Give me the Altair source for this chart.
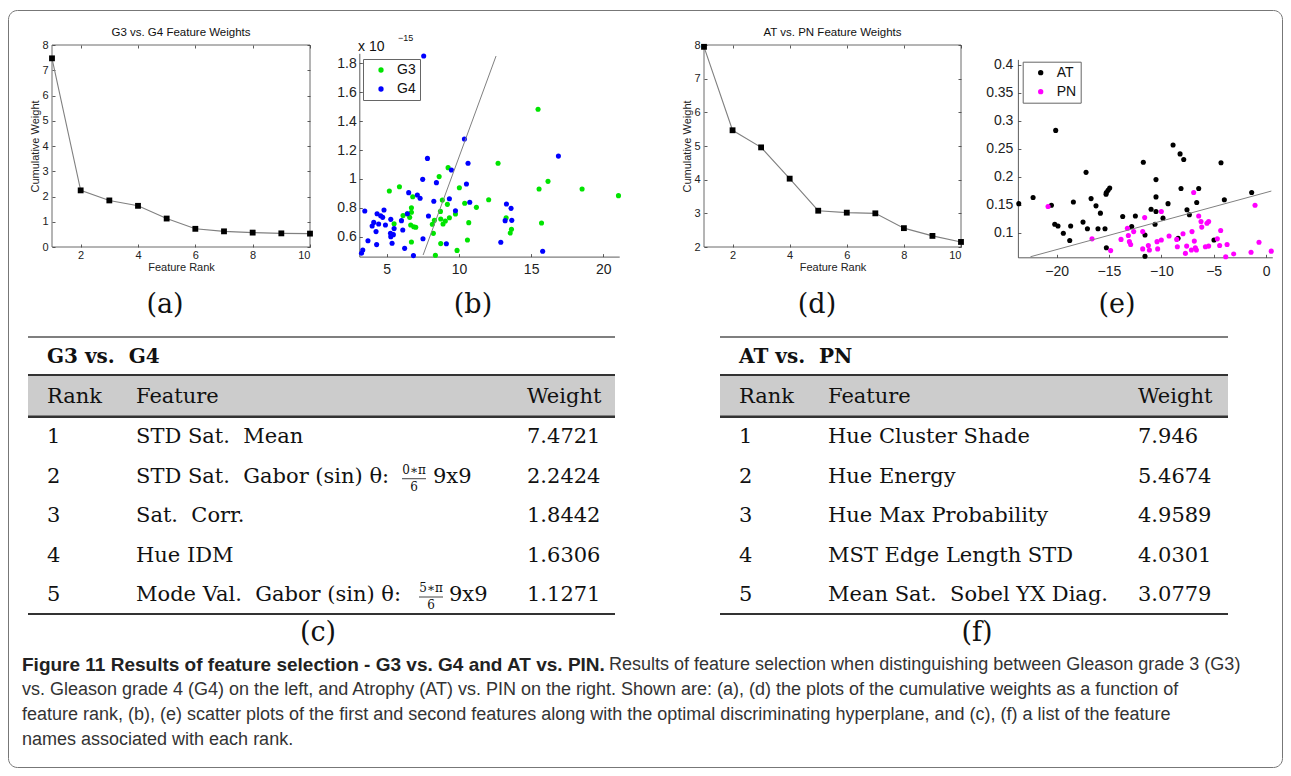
import altair as alt
import pandas as pd

# ---------------- data ----------------
rank = list(range(1, 11))
g34_weights = [7.4721, 2.2424, 1.8442, 1.6306, 1.1271, 0.72, 0.62, 0.57, 0.54, 0.53]
atpn_weights = [7.946, 5.4674, 4.9589, 4.0301, 3.0779, 3.02, 3.00, 2.56, 2.33, 2.15]

g3_x = [15.48, 12.71, 9.25, 8.63, 10.03, 5.18, 5.88, 6.80, 15.55, 16.17, 18.53, 21.05, 12.06, 8.85,
        9.20, 10.40, 11.21, 6.71, 6.71, 6.13, 6.43, 6.59, 8.72, 9.76, 9.34, 8.74, 8.30, 8.16, 9.06,
        8.90, 5.51, 6.66, 6.87, 7.01, 10.68, 13.27, 13.64, 13.55, 15.72, 8.23, 6.71, 8.74, 10.59,
        9.87, 8.37]
g3_y = [1.482, 1.108, 1.078, 1.016, 0.939, 0.916, 0.946, 0.877, 0.93, 0.983, 0.93, 0.884, 0.856, 0.854,
        0.824, 0.831, 0.803, 0.80, 0.769, 0.746, 0.759, 0.734, 0.775, 0.757, 0.731, 0.722, 0.713, 0.686,
        0.709, 0.688, 0.69, 0.681, 0.669, 0.665, 0.697, 0.731, 0.651, 0.625, 0.695, 0.623, 0.563, 0.552,
        0.577, 0.505, 0.471]
g4_x = [7.56, 10.38, 7.82, 16.89, 10.63, 9.48, 7.49, 10.52, 8.44, 6.52, 7.12, 7.31, 9.34, 8.26, 10.75,
        13.29, 13.61, 9.76, 4.81, 3.48, 4.33, 4.58, 4.72, 5.28, 6.02, 6.43, 7.89, 13.20, 13.66, 4.10,
        4.44, 4.91, 3.99, 5.51, 4.26, 6.11, 5.26, 5.46, 5.28, 3.70, 4.30, 5.37, 7.51, 9.13, 12.90, 6.24,
        6.85, 15.8, 3.34, 3.25]
g4_y = [1.851, 1.276, 1.142, 1.158, 1.108, 1.062, 0.997, 0.965, 0.974, 0.905, 0.889, 0.866, 0.863,
        0.845, 0.838, 0.826, 0.796, 0.78, 0.785, 0.778, 0.759, 0.745, 0.734, 0.72, 0.711, 0.759, 0.743,
        0.711, 0.713, 0.699, 0.688, 0.681, 0.674, 0.656, 0.635, 0.646, 0.623, 0.614, 0.60, 0.572, 0.545,
        0.554, 0.586, 0.551, 0.561, 0.519, 0.469, 0.499, 0.508, 0.485]
g34_plane_x = [7.52, 12.57]
g34_plane_y = [0.473, 1.851]

at_x = [-20.09, -8.88, -8.21, -7.86, -11.72, -4.30, -17.19, -10.51, -14.93, -15.09, -15.25, -15.28,
        -8.12, -6.43, -1.37, -22.25, -16.71, -10.51, -3.98, -23.62, -18.40, -9.36, -6.62, -20.50,
        -16.24, -15.82, -10.98, -10.51, -7.55, -7.32, -13.69, -12.48, -9.84, -17.48, -20.18, -19.87,
        -18.66, -12.83, -10.60, -17.06, -16.05, -15.38, -19.36, -11.56, -18.75, -8.40, -4.97, -15.25,
        -11.56]
at_y = [0.283, 0.257, 0.241, 0.231, 0.226, 0.225, 0.208, 0.195, 0.180, 0.176, 0.172, 0.169, 0.179,
        0.179, 0.172, 0.163, 0.161, 0.164, 0.159, 0.152, 0.155, 0.152, 0.154, 0.149, 0.148, 0.135,
        0.142, 0.138, 0.141, 0.132, 0.129, 0.130, 0.126, 0.119, 0.115, 0.112, 0.112, 0.111, 0.115,
        0.107, 0.107, 0.107, 0.099, 0.096, 0.086, 0.090, 0.087, 0.073, 0.058]
pn_x = [-6.91, -20.82, -1.05, -10.0, -11.59, -6.43, -6.21, -5.48, -5.64, -6.14, -13.24, -12.64, -11.78,
        -13.85, -16.62, -13.15, -13.05, -12.93, -14.84, -11.78, -11.24, -11.14, -10.41, -10.0, -10.35,
        -9.26, -8.53, -8.47, -7.93, -7.58, -7.70, -7.07, -6.85, -7.13, -6.75, -6.65, -5.79, -5.48,
        -4.65, -4.33, -4.43, -3.72, -3.85, -3.09, -1.43, -0.67, 0.50]
pn_y = [0.172, 0.147, 0.149, 0.138, 0.127, 0.130, 0.120, 0.120, 0.117, 0.110, 0.108, 0.102, 0.102,
        0.088, 0.089, 0.095, 0.084, 0.079, 0.068, 0.071, 0.077, 0.069, 0.084, 0.087, 0.071, 0.094,
        0.088, 0.075, 0.098, 0.076, 0.063, 0.102, 0.085, 0.069, 0.073, 0.069, 0.075, 0.076, 0.089,
        0.104, 0.077, 0.079, 0.057, 0.062, 0.065, 0.083, 0.067]
atpn_plane_x = [-22.5, 0.51]
atpn_plane_y = [0.057, 0.1745]

NB = "\u00a0"
table_rank = [1, 2, 3, 4, 5]
g34_feature = ["STD Sat." + NB + " Mean", "STD Sat." + NB + " Gabor (sin) \u03b8:", "Sat." + NB + " Corr.",
               "Hue IDM", "Mode Val." + NB + " Gabor (sin) \u03b8:"]
g34_frac_num = ["", "0\u2217\u03c0", "", "", "5\u2217\u03c0"]
g34_frac_den = ["", "6", "", "", "6"]
g34_suffix = ["", "9x9", "", "", "9x9"]
g34_weight_txt = ["7.4721", "2.2424", "1.8442", "1.6306", "1.1271"]
atpn_feature = ["Hue Cluster Shade", "Hue Energy", "Hue Max Probability", "MST Edge Length STD",
                "Mean Sat." + NB + " Sobel YX Diag."]
atpn_weight_txt = ["7.946", "5.4674", "4.9589", "4.0301", "3.0779"]

caption_bold = "Figure 11 Results of feature selection - G3 vs. G4 and AT vs. PIN."
caption_lines = [
    "Results of feature selection when distinguishing between Gleason grade 3 (G3)",
    "vs. Gleason grade 4 (G4) on the left, and Atrophy (AT) vs. PIN on the right. Shown are: (a), (d) the plots of the cumulative weights as a function of",
    "feature rank, (b), (e) scatter plots of the first and second features along with the optimal discriminating hyperplane, and (c), (f) a list of the feature",
    "names associated with each rank.",
]

# ---------------- layout ----------------
W, H = 1275, 760
SANS = "Liberation Sans"
SERIF = "DejaVu Serif"
TFS = 21
layers = []


def txt(text, x, y, size, font=SANS, weight="normal", align="left", baseline="middle", angle=0,
        color="#111"):
    return alt.Chart(pd.DataFrame({"t": [text]})).mark_text(
        font=font, fontSize=size, fontWeight=weight, align=align, baseline=baseline,
        angle=angle, color=color
    ).encode(x=alt.value(x), y=alt.value(y), text="t:N")


def hrule(x0, x1, y, width=1.5, color="#333"):
    return alt.Chart(pd.DataFrame({"k": [0]})).mark_rule(color=color, strokeWidth=width).encode(
        x=alt.value(x0), x2=alt.value(x1), y=alt.value(y))


def axis(**kw):
    base = dict(grid=False, title=None, labelFont=SANS, titleFont=SANS, titleFontWeight="normal",
                labelColor="#222", titleColor="#222", tickColor="#333", domainColor="#333",
                domainWidth=0.8, tickWidth=0.8)
    base.update(kw)
    return alt.Axis(**base)


def weight_plot(weights, xr, yr, ydom, yvals, title):
    df = pd.DataFrame({"rank": rank, "w": weights})
    xs = alt.Scale(domain=[1, 10], range=xr, nice=False, zero=False)
    ys = alt.Scale(domain=ydom, range=yr, nice=False, zero=False)
    xl, xrt = xr
    yb, yt = yr
    xticks = [2, 4, 6, 8, 10]
    frame = alt.Chart(pd.DataFrame({"x0": [1], "x1": [10], "y0": [ydom[0]], "y1": [ydom[1]]})).mark_rect(
        fill="white", fillOpacity=0, stroke="#444", strokeWidth=0.8
    ).encode(
        x=alt.X("x0:Q", scale=xs, axis=axis(orient="bottom", offset=yt - H, values=xticks, labels=False,
                                             domain=False, tickSize=3)),
        x2="x1:Q",
        y=alt.Y("y0:Q", scale=ys, axis=axis(orient="left", offset=-xrt, values=yvals, labels=False,
                                             domain=False, tickSize=3)),
        y2="y1:Q",
    )
    line = alt.Chart(df).mark_line(color="#808080", strokeWidth=1.1).encode(
        x=alt.X("rank:Q", scale=xs, axis=axis(orient="bottom", offset=yb - H, values=xticks, ticks=False,
                                               domain=False, labelPadding=2, labelFontSize=11,
                                               title="Feature Rank", titleFontSize=11, titlePadding=1)),
        y=alt.Y("w:Q", scale=ys, axis=axis(orient="left", offset=-xl, values=yvals, ticks=False,
                                            domain=False, labelPadding=4, labelFontSize=11,
                                            title="Cumulative Weight", titleFontSize=11, titlePadding=1)),
    )
    pts = alt.Chart(df).mark_square(size=34, color="black", opacity=1).encode(
        x=alt.X("rank:Q", scale=xs, axis=axis(orient="top", offset=-yb, values=xticks, labels=False,
                                               domain=False, tickSize=3)),
        y=alt.Y("w:Q", scale=ys, axis=axis(orient="right", offset=xl - W, values=yvals, labels=False,
                                            domain=False, tickSize=3)),
    )
    t = txt(title, (xl + xrt) / 2, yt - 12, 11.5, align="center")
    return [frame, line, pts, t]


def scatter_plot(df, xdom, xr, ydom, yr, xvals, yvals, cdom, crange, legxy, plane_x, plane_y, ypad, xpad):
    xs = alt.Scale(domain=xdom, range=xr, nice=False, zero=False)
    ys = alt.Scale(domain=ydom, range=yr, nice=False, zero=False)
    xl, xrt = xr
    yb, yt = yr
    pts = alt.Chart(df).mark_circle(size=26, opacity=1).encode(
        x=alt.X("x:Q", scale=xs, axis=axis(orient="bottom", offset=yb - H, values=xvals, ticks=False,
                                            labelPadding=xpad, labelFontSize=14, format="~g")),
        y=alt.Y("y:Q", scale=ys, axis=axis(orient="left", offset=-xl, values=yvals, ticks=False,
                                            labelPadding=ypad, labelFontSize=14, format="~g")),
        color=alt.Color("cls:N", scale=alt.Scale(domain=cdom, range=crange),
                        legend=alt.Legend(orient="none", legendX=legxy[0], legendY=legxy[1], title=None,
                                          strokeColor="#666", fillColor="white", padding=4,
                                          rowPadding=5, labelFontSize=14, labelFont=SANS,
                                          labelColor="#111", symbolSize=28, symbolType="circle",
                                          symbolOffset=7, labelOffset=9, symbolStrokeWidth=0)),
    )
    pdf = pd.DataFrame({"x": plane_x, "y": plane_y})
    plane = alt.Chart(pdf).mark_line(color="#808080", strokeWidth=1).encode(
        x=alt.X("x:Q", scale=xs, axis=axis(orient="top", offset=-yb, values=xvals, labels=False,
                                            domain=False, tickSize=3)),
        y=alt.Y("y:Q", scale=ys, axis=axis(orient="right", offset=xl - W, values=yvals, labels=False,
                                            domain=False, tickSize=3)),
    )
    return [pts, plane]


# outer frame
layers.append(alt.Chart(pd.DataFrame({"k": [0]})).mark_rect(
    fill="white", fillOpacity=0, stroke="#777", strokeWidth=1, cornerRadius=9
).encode(x=alt.value(0.5), x2=alt.value(1274.5), y=alt.value(2.5), y2=alt.value(759.5)))

# (a) and (d)
layers += weight_plot(g34_weights, [44, 302], [239, 37], [0, 8], list(range(0, 9)),
                      "G3 vs. G4 Feature Weights")
layers += weight_plot(atpn_weights, [696, 953], [239, 37], [2, 8], list(range(2, 9)),
                      "AT vs. PN Feature Weights")

# (b)
df_b = pd.DataFrame({"x": g3_x + g4_x, "y": g3_y + g4_y,
                     "cls": ["G3"] * len(g3_x) + ["G4"] * len(g4_x)})
layers += scatter_plot(df_b, [3.1, 21.1], [351.3, 611.2], [0.462, 1.87], [248.6, 45.3],
                       [5, 10, 15, 20], [0.6, 0.8, 1.0, 1.2, 1.4, 1.6, 1.8],
                       ["G3", "G4"], ["#00e400", "#0000ff"], (355, 51), g34_plane_x, g34_plane_y,
                       3, 6)
layers.append(txt("x 10", 350, 38.5, 14, align="left"))
layers.append(txt("\u221215", 390, 29.5, 9, align="left"))

# (e)
df_e = pd.DataFrame({"x": at_x + pn_x, "y": at_y + pn_y,
                     "cls": ["AT"] * len(at_x) + ["PN"] * len(pn_x)})
layers += scatter_plot(df_e, [-23.7, 0.6], [1009.9, 1264.3], [0.056, 0.41], [249.3, 51.4],
                       [-20, -15, -10, -5, 0], [0.1, 0.15, 0.2, 0.25, 0.3, 0.35, 0.4],
                       ["AT", "PN"], ["#000000", "#ff00ff"], (1014.7, 53.7), atpn_plane_x, atpn_plane_y,
                       5, 7)

# sub-figure labels
for lab, lx, ly in [("(a)", 157, 297), ("(b)", 465, 297), ("(d)", 809, 297), ("(e)", 1109, 297),
                    ("(c)", 310, 625), ("(f)", 969, 625)]:
    layers.append(txt(lab, lx, ly, 27, font=SERIF, align="center"))

# ---------------- tables ----------------
ROW_Y = alt.Scale(domain=[1, 5], range=[429.3, 587], nice=False, zero=False)


def table(x0, x1, cx, title, features, weights):
    out = []
    out.append(alt.Chart(pd.DataFrame({"k": [0]})).mark_rect(fill="#cccccc").encode(
        x=alt.value(x0), x2=alt.value(x1), y=alt.value(367), y2=alt.value(408.7)))
    out.append(hrule(x0, x1, 329, 1.6, "#555"))
    out.append(hrule(x0, x1, 367, 1.8, "#333"))
    out.append(hrule(x0, x1, 408.7, 2.4, "#333"))
    out.append(hrule(x0, x1, 606, 2.0, "#333"))
    out.append(txt(title, cx[0], 349, 20, font=SERIF, weight="bold"))
    for head, hx in zip(["Rank", "Feature", "Weight"], cx):
        out.append(txt(head, hx, 389, TFS, font=SERIF))
    df = pd.DataFrame({"rank": table_rank, "feature": features, "weight": weights})
    for col, hx in zip(["rank", "feature", "weight"], cx):
        out.append(alt.Chart(df).mark_text(font=SERIF, fontSize=TFS, align="left", baseline="middle",
                                           color="#111").encode(
            x=alt.value(hx), y=alt.Y("rank:Q", scale=ROW_Y, axis=None), text=f"{col}:N"))
    return out


layers += table(20, 607, [39, 128, 519], "G3 vs." + NB + " G4", g34_feature, g34_weight_txt)
layers += table(712, 1220, [731, 820, 1130], "AT vs." + NB + " PN", atpn_feature, atpn_weight_txt)

# fractions in the G3 vs. G4 table (rows 2 and 5)
frac_pos = {2: (406, 425), 5: (423, 441)}
fdf = pd.DataFrame({"rank": table_rank, "num": g34_frac_num, "den": g34_frac_den, "suf": g34_suffix})
for r, (fxc, sx) in frac_pos.items():
    one = fdf[fdf["rank"] == r]
    layers.append(alt.Chart(one).mark_text(font=SERIF, fontSize=12, align="center", baseline="middle",
                                           dy=-7, color="#111").encode(
        x=alt.value(fxc), y=alt.Y("rank:Q", scale=ROW_Y, axis=None), text="num:N"))
    layers.append(alt.Chart(one).mark_text(font=SERIF, fontSize=12, align="center", baseline="middle",
                                           dy=10, color="#111").encode(
        x=alt.value(fxc), y=alt.Y("rank:Q", scale=ROW_Y, axis=None), text="den:N"))
    layers.append(alt.Chart(one).mark_rule(color="#111", strokeWidth=0.8, yOffset=2).encode(
        x=alt.value(fxc - 12), x2=alt.value(fxc + 12), y=alt.Y("rank:Q", scale=ROW_Y, axis=None)))
    layers.append(alt.Chart(one).mark_text(font=SERIF, fontSize=TFS, align="left", baseline="middle",
                                           color="#111").encode(
        x=alt.value(sx), y=alt.Y("rank:Q", scale=ROW_Y, axis=None), text="suf:N"))

# ---------------- caption ----------------
layers.append(txt(caption_bold, 14, 657, 19, weight="bold", color="#222"))
layers.append(txt(caption_lines[0], 601, 657, 18, color="#333"))
for i, line in enumerate(caption_lines[1:]):
    layers.append(txt(line, 14, 682 + 25 * i, 18, color="#333"))

chart = alt.layer(*layers).resolve_scale(
    x="independent", y="independent", color="independent"
).properties(
    width=W, height=H, autosize=alt.AutoSizeParams(type="none"), padding=0
).configure_view(strokeWidth=0).configure_axis(grid=False)

chart.save("out.html", embed_options={"renderer": "svg", "actions": False})
